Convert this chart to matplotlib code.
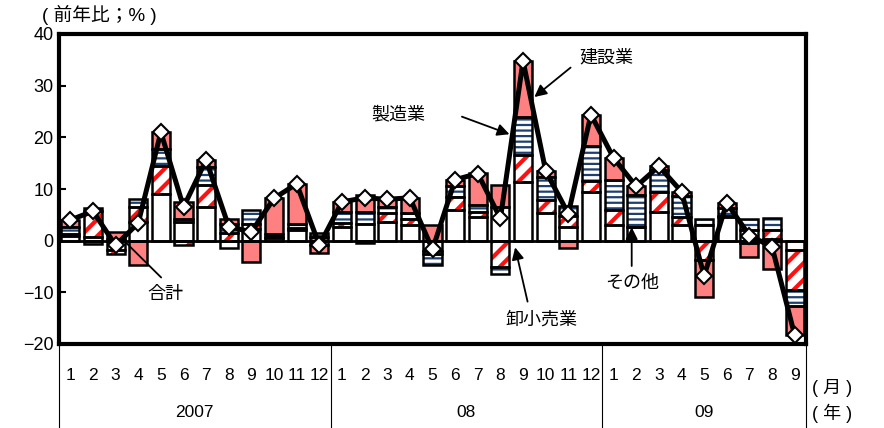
import matplotlib
matplotlib.use('Agg')
import matplotlib.pyplot as plt
import matplotlib.transforms as mtransforms
import numpy as np

plt.rcParams['font.family'] = ['Liberation Sans', 'Noto Sans CJK JP']

# 前年比寄与度（%）: 2007/1 - 2009/9
others = [1.0, 0.8, -1.8, 3.6, 9.0, 3.7, 6.5, -1.5, 2.3, 0.5, 2.0, -0.8,
          2.7, 3.3, 3.6, 3.0, -2.0, 5.9, 4.6, 6.5, 11.4, 5.3, 2.7, 9.4,
          3.0, 2.7, 5.6, 3.0, 3.0, 4.5, 2.0, 0.4, -1.9]
retail = [0.3, 5.0, -0.8, 3.0, 5.5, -0.9, 4.2, 1.5, 1.0, 0.3, 0.5, 0.8,
          0.7, -0.5, 1.7, 1.2, -0.5, 2.6, 1.0, -5.0, 5.1, 2.5, 2.0, 2.2,
          2.9, 0.0, 3.9, 1.6, -3.8, 0.3, -0.5, 1.6, -7.6]
manuf = [1.4, 0.6, 0.4, 1.5, 3.3, 0.5, 3.6, 1.8, 2.6, 0.5, 0.8, 0.6,
         2.2, 2.3, 1.2, 1.2, -2.2, 2.0, 1.3, -1.4, 7.5, 4.5, 2.0, 6.8,
         5.8, 6.1, 4.2, 4.0, 1.1, 1.5, 2.1, 2.3, -3.2]
constr = [1.3, -0.7, 1.3, -4.7, 3.2, 3.2, 1.3, 0.9, -4.2, 6.9, 7.7, -1.5,
          1.9, 3.2, 1.5, 2.9, 3.0, 1.3, 6.1, 4.2, 10.8, 1.2, -1.5, 6.0,
          4.3, 1.7, 0.7, 0.9, -7.1, 1.0, -2.6, -5.5, -5.6]
months = [str(m) for m in range(1, 13)] * 2 + [str(m) for m in range(1, 10)]
years = ['2007', '08', '09']
year_len = [12, 12, 9]

series = [
    dict(vals=others, face='white', hatch=None, hcol=None, hlw=1.0),
    dict(vals=retail, face='white', hatch='//', hcol='#ff1010', hlw=3.0),
    dict(vals=manuf, face='white', hatch='---', hcol='#1f3f6e', hlw=1.6),
    dict(vals=constr, face='#ff8080', hatch=None, hcol=None, hlw=1.0),
]

n = len(months)
x = np.arange(n)
total = np.sum([s['vals'] for s in series], axis=0)

fig = plt.figure(figsize=(8.84, 4.28), dpi=100)
ax = fig.add_axes([59 / 884, 1 - 344 / 428, 747 / 884, 310 / 428])

w = 0.8
pos_base = np.zeros(n)
neg_base = np.zeros(n)
for s in series:
    v = np.array(s['vals'])
    base = np.where(v >= 0, pos_base, neg_base)
    if s['hatch']:
        with plt.rc_context({'hatch.color': s['hcol'], 'hatch.linewidth': s['hlw']}):
            ax.bar(x, v, w, bottom=base, color=s['face'], hatch=s['hatch'],
                   edgecolor=s['hcol'], linewidth=0, zorder=2)
    else:
        ax.bar(x, v, w, bottom=base, color=s['face'], linewidth=0, zorder=2)
    ax.bar(x, v, w, bottom=base, fill=False, edgecolor='black', linewidth=1.8, zorder=3)
    pos_base = pos_base + np.where(v >= 0, v, 0)
    neg_base = neg_base + np.where(v < 0, v, 0)

ax.axhline(0, color='black', lw=2, zorder=4)
ax.plot(x, total, color='black', lw=3.6, marker='D', markersize=8,
        markerfacecolor='white', markeredgecolor='black', markeredgewidth=1.5, zorder=5)

ax.set_xlim(-0.5, n - 0.5)
ax.set_ylim(-20, 40)
ax.set_yticks(np.arange(-20, 41, 10))
ax.tick_params(axis='y', direction='in', length=5, width=1.5, labelsize=13, pad=4)
ax.set_xticks([])
for sp in ax.spines.values():
    sp.set_linewidth(3)

# 月・年ラベルと区切り線
trans = mtransforms.blended_transform_factory(ax.transData, ax.transAxes)
for i, m in enumerate(months):
    ax.text(i, -0.1, m, transform=trans, ha='center', va='center', fontsize=12.5)
start = 0
edges = [-0.5]
for yl, ln in zip(years, year_len):
    ax.text(start + (ln - 1) / 2, -0.222, yl, transform=trans, ha='center',
            va='center', fontsize=12.5)
    start += ln
    edges.append(start - 0.5)
for e in edges:
    ax.plot([e, e], [0, -0.3], transform=trans, color='black', lw=0.8, clip_on=False)

fig.text(812 / 884, 1 - 388 / 428, '( 月 )', ha='left', va='center', fontsize=13)
fig.text(812 / 884, 1 - 413 / 428, '( 年 )', ha='left', va='center', fontsize=13)
fig.text(42 / 884, 1 - 15 / 428, '( 前年比；% )', ha='left', va='center', fontsize=13.5)

# 業種の注記
arrow = dict(arrowstyle='-|>', color='black', lw=1.3, mutation_scale=18,
             shrinkA=0, shrinkB=0)
ax.text(23.7, 35.3, '建設業', ha='center', va='center', fontsize=13)
ax.annotate('', xy=(20.5, 27.8), xytext=(22.1, 33.5), arrowprops=arrow)
ax.text(14.5, 24.3, '製造業', ha='center', va='center', fontsize=13)
ax.annotate('', xy=(19.4, 20.6), xytext=(17.3, 24.0), arrowprops=arrow)
ax.text(20.8, -15.4, '卸小売業', ha='center', va='center', fontsize=13)
ax.annotate('', xy=(19.65, -1.3), xytext=(20.2, -11.8), arrowprops=arrow)
ax.text(4.2, -10.5, '合計', ha='center', va='center', fontsize=13)
ax.annotate('', xy=(2.3, 0.3), xytext=(4.1, -7.5),
            arrowprops=dict(arrowstyle='-', color='black', lw=1.3))
ax.text(24.8, -8.3, 'その他', ha='center', va='center', fontsize=13)
ax.annotate('', xy=(24.8, 2.6), xytext=(24.8, -4.9), arrowprops=arrow)

fig.savefig('out.png', dpi=100)
